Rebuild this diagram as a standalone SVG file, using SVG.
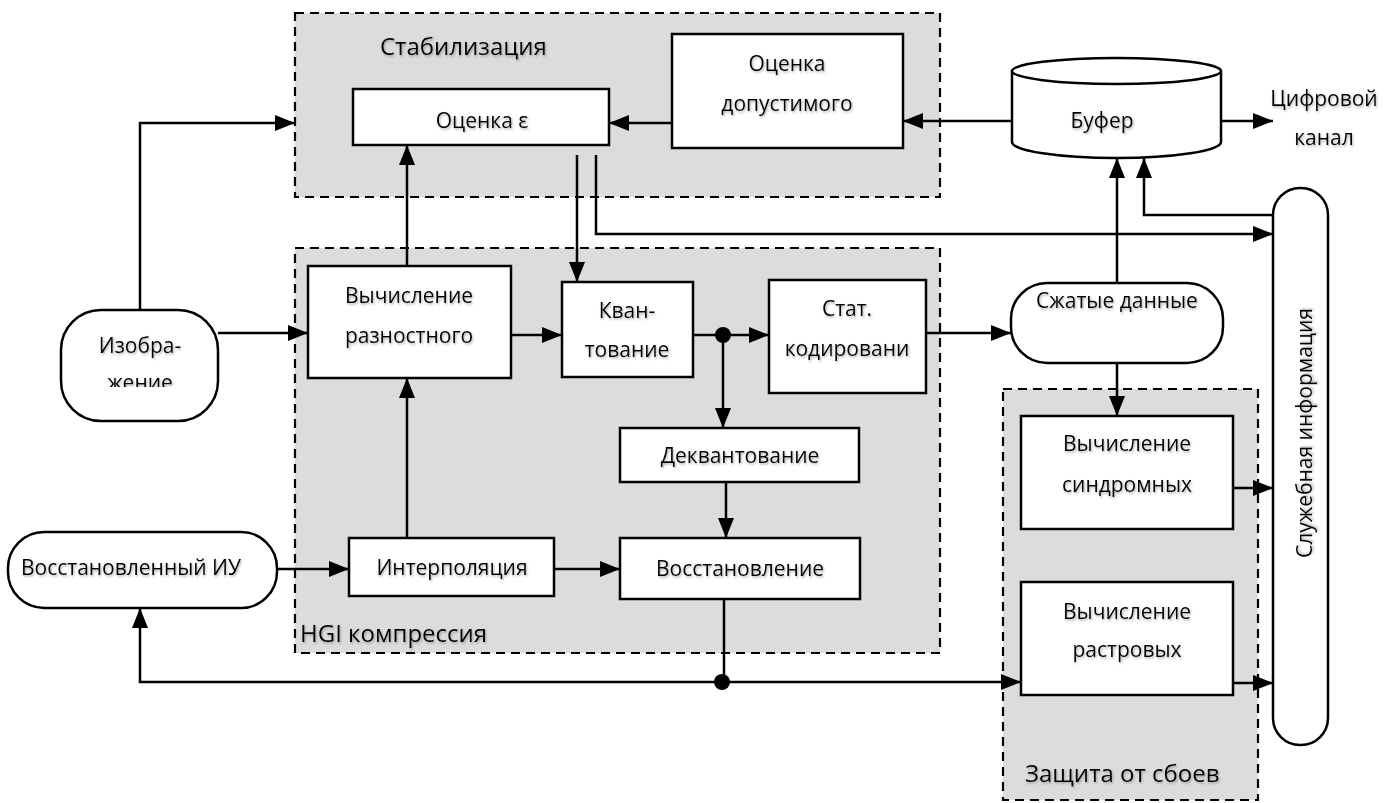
<svg xmlns="http://www.w3.org/2000/svg" width="1395" height="803" viewBox="0 0 1395 803">
<defs>
<style>
.grp{fill:#dcdcdc;stroke:#000;stroke-width:2.2;stroke-dasharray:9 6}
.box{fill:#fff;stroke:#000;stroke-width:2.5}
.t{font-family:"Open Sans","Liberation Sans",sans-serif;font-size:21px;fill:#000;text-anchor:middle;filter:url(#sh)}
.title{font-size:24px;text-anchor:start}
.ln{fill:none;stroke:#000;stroke-width:2.5}
.ar{marker-end:url(#arr)}
</style>
<filter id="sh" x="-10%" y="-30%" width="120%" height="160%">
<feDropShadow dx="1" dy="1.5" stdDeviation="1.2" flood-color="#666" flood-opacity="0.55"/>
</filter>
<marker id="arr" markerUnits="userSpaceOnUse" markerWidth="22" markerHeight="16" refX="20" refY="8" orient="auto">
<path d="M0,0 L20,8 L0,16 z" fill="#000"/>
</marker>
<clipPath id="clipImg"><rect x="61" y="310" width="157" height="77"/></clipPath>
</defs>

<g id="stabilization">
<rect class="grp" x="295" y="13" width="645" height="184"/>
<text class="t title" x="380" y="55">Стабилизация</text>
</g>
<g id="hgi">
<rect class="grp" x="295" y="248" width="645" height="405"/>
<text class="t title" x="300" y="642">HGI компрессия</text>
</g>
<g id="protection">
<rect class="grp" x="1003" y="389" width="255" height="411"/>
<text class="t title" x="1025" y="782">Защита от сбоев</text>
</g>

<g id="connectors">
<path class="ln ar" d="M1012,121 L903,121"/>
<path class="ln ar" d="M1221,121 L1273,121"/>
<path class="ln ar" d="M140,310 L140,123 L295,123"/>
<path class="ln ar" d="M407,266 L407,145"/>
<path class="ln ar" d="M672,123 L609,123"/>
<path class="ln ar" d="M577,155 L577,282"/>
<path class="ln ar" d="M596,155 L596,234 L1273,234"/>
<path class="ln ar" d="M1273,215 L1144,215 L1144,158"/>
<path class="ln ar" d="M1117,283 L1117,158"/>
<path class="ln ar" d="M218,333 L308,333"/>
<path class="ln ar" d="M511,335 L562,335"/>
<path class="ln ar" d="M693,335 L769,335"/>
<path class="ln ar" d="M723,335 L723,428"/>
<path class="ln ar" d="M926,333 L1011,333"/>
<path class="ln ar" d="M1117,363 L1117,416"/>
<path class="ln ar" d="M1233,488 L1273,488"/>
<path class="ln ar" d="M1233,683 L1273,683"/>
<path class="ln ar" d="M726,483 L726,538"/>
<path class="ln ar" d="M277,569 L349,569"/>
<path class="ln ar" d="M554,569 L620,569"/>
<path class="ln ar" d="M407,538 L407,378"/>
<path class="ln" d="M724,599 L724,682"/>
<path class="ln ar" d="M724,682 L1021,682"/>
<path class="ln ar" d="M724,682 L140,682 L140,608"/>
<circle cx="723" cy="335" r="8" fill="#000"/>
<circle cx="722" cy="682" r="8" fill="#000"/>
</g>

<g id="ocenka-eps">
<rect class="box" x="353" y="89" width="256" height="56"/>
<text class="t" x="482" y="128">Оценка ε</text>
</g>
<g id="ocenka-dop">
<rect class="box" x="672" y="34" width="231" height="114"/>
<text class="t" x="787" y="71">Оценка</text>
<text class="t" x="787" y="111">допустимого</text>
</g>
<g id="bufer">
<path class="box" d="M1012,71 L1012,142 A104.5,16 0 0 0 1221,142 L1221,71"/>
<ellipse class="box" cx="1116.5" cy="71" rx="104.5" ry="13"/>
<text class="t" x="1102" y="128">Буфер</text>
</g>
<g id="channel">
<text class="t" x="1324" y="106">Цифровой</text>
<text class="t" x="1324" y="145">канал</text>
</g>
<g id="sluzh">
<rect class="box" x="1273" y="188" width="55" height="557" rx="27"/>
<text class="t" transform="translate(1312,433) rotate(-90)" x="0" y="0">Служебная информация</text>
</g>
<g id="izobrazhenie">
<rect class="box" x="61" y="310" width="157" height="111" rx="40"/>
<text class="t" x="140" y="353">Изобра-</text>
<text class="t" x="140" y="390" clip-path="url(#clipImg)">жение</text>
</g>
<g id="vych-razn">
<rect class="box" x="308" y="266" width="203" height="112"/>
<text class="t" x="409" y="303">Вычисление</text>
<text class="t" x="409" y="343">разностного</text>
</g>
<g id="kvant">
<rect class="box" x="562" y="282" width="131" height="95"/>
<text class="t" x="627" y="318">Кван-</text>
<text class="t" x="627" y="357">тование</text>
</g>
<g id="stat">
<rect class="box" x="769" y="280" width="157" height="113"/>
<text class="t" x="847" y="316">Стат.</text>
<text class="t" x="847" y="356">кодировани</text>
</g>
<g id="dekvant">
<rect class="box" x="620" y="428" width="239" height="54"/>
<text class="t" x="740" y="463">Деквантование</text>
</g>
<g id="interp">
<rect class="box" x="349" y="538" width="205" height="58"/>
<text class="t" x="452" y="575">Интерполяция</text>
</g>
<g id="vosst">
<rect class="box" x="620" y="538" width="240" height="61"/>
<text class="t" x="740" y="576">Восстановление</text>
</g>
<g id="vosst-iu">
<rect class="box" x="8" y="532" width="269" height="76" rx="36"/>
<text class="t" x="131" y="575">Восстановленный ИУ</text>
</g>
<g id="szhatye">
<rect class="box" x="1011" y="283" width="212" height="80" rx="36"/>
<text class="t" x="1117" y="308">Сжатые данные</text>
</g>
<g id="sindrom">
<rect class="box" x="1021" y="416" width="212" height="113"/>
<text class="t" x="1127" y="451">Вычисление</text>
<text class="t" x="1127" y="492">синдромных</text>
</g>
<g id="rastr">
<rect class="box" x="1021" y="582" width="212" height="113"/>
<text class="t" x="1127" y="619">Вычисление</text>
<text class="t" x="1127" y="657">растровых</text>
</g>
</svg>
